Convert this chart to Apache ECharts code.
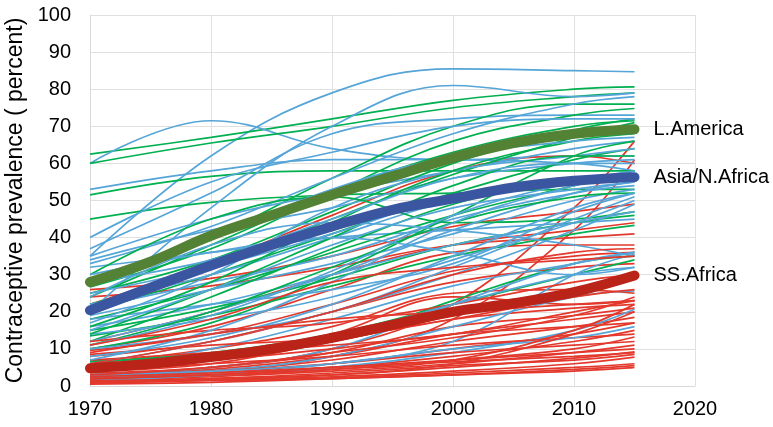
<!DOCTYPE html>
<html>
<head>
<meta charset="utf-8">
<script src="https://cdn.jsdelivr.net/npm/echarts@6/dist/echarts.min.js"></script>
<style>
html,body{margin:0;padding:0;background:#fff;}
#chart{width:773px;height:427px;}
</style>
</head>
<body>
<div id="chart"></div>
<script>
// ---- data ----
const thinYears = [1970, 1980, 1990, 2000, 2010, 2015];
const avgYears = [1970, 1975, 1980, 1985, 1990, 1995, 2000, 2005, 2010, 2015];

const latamAvg = [28, 33.5, 40.5, 46, 51.5, 56.5, 61.5, 65.5, 68, 69.2];
const asiaAvg = [20.4, 26.5, 32.5, 38, 43, 47.5, 50.5, 53.5, 55.3, 56.3];
const africaAvg = [4.8, 6, 7.8, 10, 13, 16.5, 20, 22.3, 25.3, 29.8];

const asiaThin = [
  [35, 62, 79, 85.5, 85, 84.7],
  [60, 71.5, 64, 61, 62, 62],
  [53, 58, 61, 61, 60, 58],
  [37, 52, 68, 72, 73, 73],
  [20, 48, 70, 81, 78, 79],
  [33, 43, 56, 68, 76, 78],
  [35, 45, 52, 58, 64, 66],
  [34, 42, 48, 56, 60, 61],
  [32, 36, 40, 42, 44, 45],
  [22, 30, 40, 50, 55, 57],
  [21, 28, 35, 45, 52, 54],
  [19, 26, 33, 41, 50, 53],
  [18, 22, 26, 33, 47, 52],
  [17, 30, 48, 58, 62, 64],
  [16, 22, 30, 38, 44, 47],
  [14, 18, 24, 34, 44, 50],
  [12, 20, 30, 42, 52, 55],
  [10, 14, 20, 32, 45, 51],
  [5, 10, 18, 27, 33, 36],
  [3, 5, 10, 22, 33, 36],
  [2.5, 4, 8, 16, 24, 25.6],
  [2, 3, 5, 9, 15, 20.7],
  [1.5, 3, 6, 12, 30, 35.5],
  [30, 36, 40, 36, 30, 32],
  [28, 34, 45, 56, 60, 60],
  [24, 38, 44, 42, 38, 35],
  [8, 13, 22, 35, 48, 52],
  [6, 12, 20, 30, 42, 49],
  [4, 7, 13, 22, 30, 32],
  [40, 55, 63, 70, 72, 72],
  [27, 40, 53, 62, 66, 67],
  [3, 4, 6, 10, 13, 16],
  [25, 32, 41, 51, 55, 56],
  [15, 26, 38, 48, 53, 55],
  [11, 19, 31, 46, 55, 58],
  [7, 15, 28, 44, 54, 57]
];

const latamThin = [
  [62.5, 67, 72, 77, 80, 80.6],
  [60, 65.5, 70, 75, 78, 79],
  [51.5, 56.5, 58, 58, 58, 58],
  [45, 49.5, 51.5, 52, 53, 53],
  [28, 40, 56, 70, 76, 76],
  [26.7, 37, 52, 66, 73, 74.8],
  [25, 34, 47, 60, 69, 72],
  [22, 32, 45, 57, 67, 71],
  [20, 30, 41, 52, 61, 64],
  [18, 26, 36, 46, 54, 58],
  [15, 21, 29, 38, 44, 46],
  [13.5, 19, 27, 35, 41, 43.3],
  [7, 8, 12, 23, 33, 35],
  [30, 45, 51, 44, 45, 47],
  [12, 24, 37, 49, 56, 57],
  [10, 17, 30, 46, 62, 66],
  [24, 38, 52, 63, 70, 71.5],
  [11, 20, 32, 44, 51, 52],
  [6.5, 9, 14, 22, 30, 34],
  [16, 28, 44, 58, 66, 68],
  [14, 26, 40, 54, 62, 62]
];

const africaThin = [
  [3, 5, 10, 22, 48, 66],
  [2, 4, 8, 18, 42, 61],
  [22, 33, 46, 58, 62, 60],
  [26, 29, 35, 43, 47, 49],
  [24, 27, 32, 38, 40, 41],
  [12, 20, 30, 38, 42, 44],
  [10, 16, 26, 36, 38, 38],
  [9.6, 14, 22, 31, 35, 36],
  [8, 12, 20, 28, 32, 33],
  [6, 10, 16, 25, 26, 25],
  [5, 8, 14, 24, 22, 23],
  [4, 6, 12, 18, 21, 22],
  [3.5, 5, 9, 16, 19, 21],
  [3, 4.5, 8, 14, 18, 20],
  [2.5, 4, 7, 12, 16, 18.5],
  [2.2, 3.5, 6, 10, 14, 17],
  [2, 3, 5, 8, 12, 15],
  [1.8, 2.8, 4.5, 7, 10, 13.2],
  [1.5, 2.5, 4, 6, 9, 11],
  [1.2, 2, 3, 5, 7.5, 9.2],
  [1, 1.8, 2.5, 4, 6, 7.8],
  [0.8, 1.5, 2.2, 3.5, 5, 6],
  [0.5, 1, 2, 3, 4.5, 5.5],
  [12, 15, 17, 22, 28, 30],
  [8.5, 11, 13, 18, 24, 26],
  [7, 9, 11, 14, 20, 23],
  [5, 7, 10, 14, 16, 17],
  [4, 6, 8, 11, 13, 14],
  [3, 4, 6, 9, 11, 12],
  [2, 3, 5, 7, 9, 10],
  [1.5, 2, 3.5, 5.5, 7, 8.5],
  [6, 12, 20, 30, 36, 37],
  [4, 7, 12, 19, 26, 29],
  [3, 5, 9, 13, 19, 24],
  [2, 3, 4.5, 7, 15, 22],
  [1, 2, 3, 6, 14, 20],
  [9, 14, 18, 20, 22, 23],
  [11, 18, 28, 32, 34, 35],
  [2.5, 3.5, 5, 6.5, 8, 9],
  [1, 1.5, 2, 3, 4, 5]
];

const xTicks = [1970, 1980, 1990, 2000, 2010, 2020];
const yAxisName = 'Contraceptive prevalence ( percent)';

// ---- build ----
const FONT = '"Liberation Sans", Arial, sans-serif';
const series = [];
function thin(vals, color) {
  series.push({
    type: 'line', smooth: 0.4, showSymbol: false, silent: true,
    data: thinYears.map((y, i) => [y, vals[i]]),
    lineStyle: { width: 1.7, color: color }
  });
}
const n = Math.max(asiaThin.length, latamThin.length, africaThin.length);
for (let i = 0; i < n; i++) {
  if (africaThin[i]) thin(africaThin[i], '#E3382C');
  if (asiaThin[i]) thin(asiaThin[i], '#55A5D8');
  if (latamThin[i]) thin(latamThin[i], '#00B050');
}
function thick(name, vals, color) {
  series.push({
    name: name, type: 'line', smooth: 0.4, showSymbol: false, silent: true,
    data: avgYears.map((y, i) => [y, vals[i]]),
    lineStyle: { width: 10, color: color, cap: 'round' },
    endLabel: { show: true, formatter: name, distance: 19, fontSize: 20, color: '#000', fontFamily: FONT }
  });
}
thick('L.America', latamAvg, '#548235');
thick('Asia/N.Africa', asiaAvg, '#3A56A0');
thick('SS.Africa', africaAvg, '#BA2318');

const chart = echarts.init(document.getElementById('chart'));
chart.setOption({
  animation: false,
  backgroundColor: '#fff',
  grid: { left: 90, right: 78, top: 15, bottom: 41, containLabel: false, outerBoundsMode: 'none' },
  xAxis: {
    type: 'value', min: xTicks[0], max: xTicks[xTicks.length - 1], interval: 10,
    axisLine: { show: true, lineStyle: { color: '#D9D9D9' } },
    axisTick: { show: false },
    splitLine: { show: true, lineStyle: { color: '#E0E0E0' } },
    axisLabel: { formatter: v => String(v), fontSize: 20, color: '#000', fontFamily: FONT, margin: 13 }
  },
  yAxis: {
    type: 'value', min: 0, max: 100, interval: 10,
    name: yAxisName, nameLocation: 'middle', nameGap: 61,
    nameTextStyle: { fontSize: 23, color: '#000', fontFamily: FONT },
    axisLine: { show: true, lineStyle: { color: '#D9D9D9' } },
    axisTick: { show: false },
    splitLine: { show: true, lineStyle: { color: '#E0E0E0' } },
    axisLabel: { fontSize: 20, color: '#000', fontFamily: FONT, margin: 19 }
  },
  series: series
});
</script>
</body>
</html>
